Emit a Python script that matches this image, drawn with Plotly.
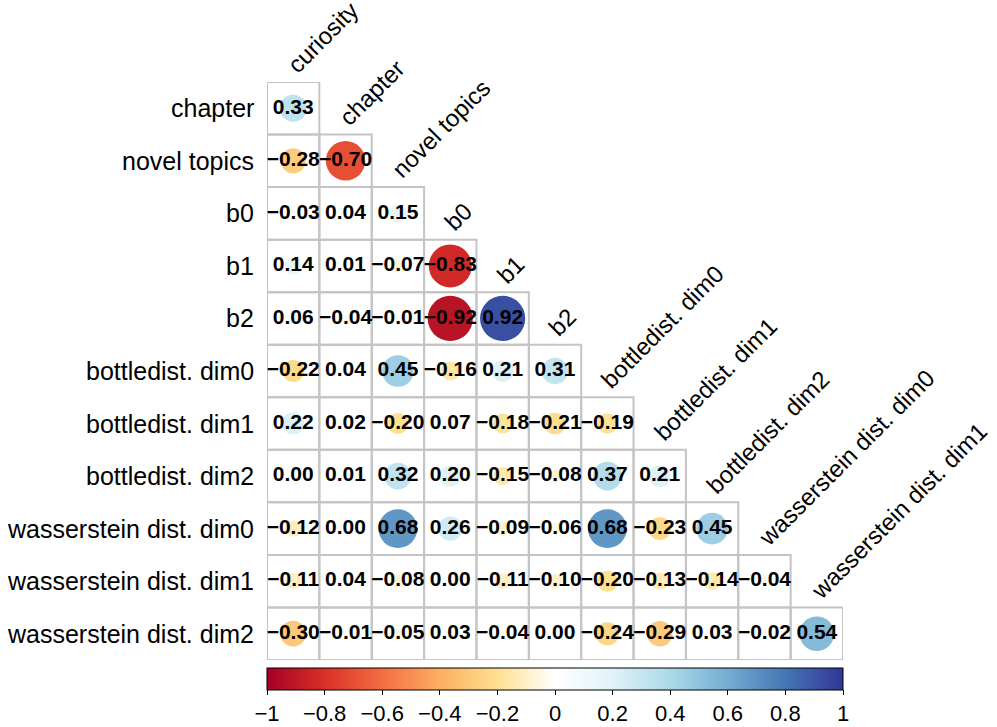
import plotly.graph_objects as go

# variables of the correlation matrix (diagonal not shown)
row_names = ["chapter", "novel topics", "b0", "b1", "b2",
             "bottledist. dim0", "bottledist. dim1", "bottledist. dim2",
             "wasserstein dist. dim0", "wasserstein dist. dim1", "wasserstein dist. dim2"]
col_names = ["curiosity", "chapter", "novel topics", "b0", "b1", "b2",
             "bottledist. dim0", "bottledist. dim1", "bottledist. dim2",
             "wasserstein dist. dim0", "wasserstein dist. dim1"]

# lower triangle, one list per row
corr_chapter = [0.33]
corr_novel = [-0.28, -0.70]
corr_b0 = [-0.03, 0.04, 0.15]
corr_b1 = [0.14, 0.01, -0.07, -0.83]
corr_b2 = [0.06, -0.04, -0.01, -0.92, 0.92]
corr_bd0 = [-0.22, 0.04, 0.45, -0.16, 0.21, 0.31]
corr_bd1 = [0.22, 0.02, -0.20, 0.07, -0.18, -0.21, -0.19]
corr_bd2 = [0.00, 0.01, 0.32, 0.20, -0.15, -0.08, 0.37, 0.21]
corr_wd0 = [-0.12, 0.00, 0.68, 0.26, -0.09, -0.06, 0.68, -0.23, 0.45]
corr_wd1 = [-0.11, 0.04, -0.08, 0.00, -0.11, -0.10, -0.20, -0.13, -0.14, -0.04]
corr_wd2 = [-0.30, -0.01, -0.05, 0.03, -0.04, 0.00, -0.24, -0.29, 0.03, -0.02, 0.54]

rows = [corr_chapter, corr_novel, corr_b0, corr_b1, corr_b2, corr_bd0,
        corr_bd1, corr_bd2, corr_wd0, corr_wd1, corr_wd2]

cb_ticks = [-1, -0.8, -0.6, -0.4, -0.2, 0, 0.2, 0.4, 0.6, 0.8, 1]

rdylbu = ["#A50026", "#D73027", "#F46D43", "#FDAE61", "#FEE090", "#FFFFFF",
          "#E0F3F8", "#ABD9E9", "#74ADD1", "#4575B4", "#313695"]
cscale = [[i / 10, c] for i, c in enumerate(rdylbu)]

FONT = "Liberation Sans, Arial, Helvetica, sans-serif"
cell_px = 52.4
max_d = 0.9 * cell_px

xs, ys, vals, sizes, labels = [], [], [], [], []
for i, r in enumerate(rows):
    for j, v in enumerate(r):
        xs.append(j)
        ys.append(i)
        vals.append(v)
        sizes.append(max_d * abs(v) ** 0.5)
        labels.append(f"{v:.2f}".replace("-", "\u2212"))

fig = go.Figure()

# grid cells
for i, r in enumerate(rows):
    for j in range(len(r)):
        fig.add_shape(type="rect", x0=j - 0.5, x1=j + 0.5, y0=i - 0.5, y1=i + 0.5,
                      line=dict(color="#c4c4c4", width=2), layer="below")

fig.add_trace(go.Scatter(
    x=xs, y=ys, mode="markers",
    marker=dict(size=sizes, color=vals, colorscale=cscale, cmin=-1, cmax=1,
                opacity=1, line=dict(width=0),
                colorbar=dict(orientation="h", thickness=22, len=576, lenmode="pixels",
                              x=0.5, xanchor="center", y=-0.014, yanchor="top",
                              xpad=0, ypad=0,
                              outlinecolor="black", outlinewidth=1,
                              tickvals=cb_ticks, ticks="outside", ticklen=5,
                              tickcolor="black",
                              tickfont=dict(family=FONT, size=22, color="black"))),
    hoverinfo="skip", showlegend=False))

fig.add_trace(go.Scatter(
    x=xs, y=ys, mode="text", text=labels,
    textfont=dict(family=FONT, size=21, color="black", weight="bold"),
    hoverinfo="skip", showlegend=False))

# row labels
for i, name in enumerate(row_names):
    fig.add_annotation(x=-0.5, y=i, xref="x", yref="y", text=name, showarrow=False,
                       xanchor="right", yanchor="middle", xshift=-11,
                       font=dict(family=FONT, size=25, color="black"))

# column labels, rotated above the first cell of each column
for j, name in enumerate(col_names):
    fig.add_annotation(x=j, y=j - 0.5, xref="x", yref="y", text=name, showarrow=False,
                       xanchor="left", yanchor="bottom", textangle=-45,
                       xshift=-14, yshift=1,
                       font=dict(family=FONT, size=24, color="black"))

fig.update_xaxes(range=[-0.5, 10.5], visible=False, fixedrange=True)
fig.update_yaxes(range=[10.5, -0.5], visible=False, fixedrange=True)
fig.update_layout(width=997, height=727, plot_bgcolor="white", paper_bgcolor="white",
                  margin=dict(l=267, r=154, t=82, b=67, autoexpand=False))

# drop the default page margin so the figure fills the window
fig.write_html("out.html", config={"displayModeBar": False},
               post_script="document.body.style.margin='0';")
